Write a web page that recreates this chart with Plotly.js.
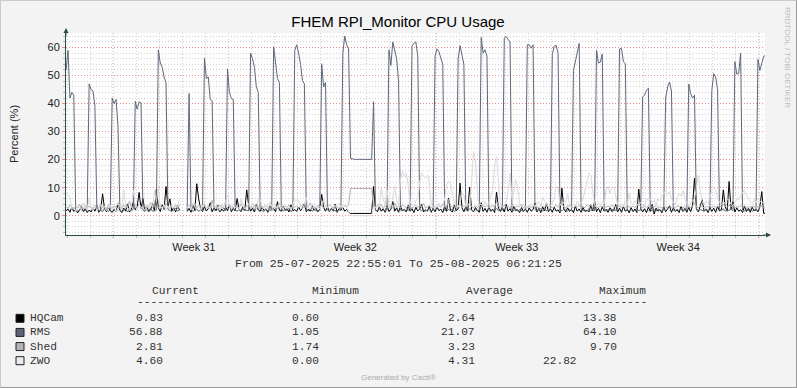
<!DOCTYPE html>
<html><head><meta charset="utf-8">
<script src="https://cdn.plot.ly/plotly-3.0.1.min.js"></script>
<style>
html,body{margin:0;padding:0;background:#f3f3f3;}
#wrap{position:relative;width:797px;height:388px;}
#chart{width:797px;height:388px;}
#frame{position:absolute;left:0;top:0;width:797px;height:388px;box-sizing:border-box;border-style:solid;border-width:1px;border-color:#cbcbcb #999 #999 #cbcbcb;pointer-events:none;}
</style></head><body>
<div id="wrap"><div id="chart"></div><div id="frame"></div></div>
<script>
// ---------- data ----------
const titleText = 'FHEM RPI_Monitor CPU Usage';
const yTitle = 'Percent (%)';
const rangeStart = '2025-07-25 22:55:01';
const rangeEnd = '2025-08-25 06:21:25';
const fromText = 'From 25-07-2025 22:55:01 To 25-08-2025 06:21:25';
const firstSample = [2025, 6, 25, 23]; // 2025-07-25 23:00, 2-hour samples
const stepHours = 2;

const weekLabels = ['Week 31', 'Week 32', 'Week 33', 'Week 34'];
const weekCenters = ['2025-07-31 12:00', '2025-08-07 12:00', '2025-08-14 12:00', '2025-08-21 12:00'];
const weekStarts = ['2025-07-28', '2025-08-04', '2025-08-11', '2025-08-18', '2025-08-25'];

const seriesNames = ['HQCam', 'RMS', 'Shed', 'ZWO'];
const seriesColors = ['#000000', '#5f687b', '#b2b2b2', '#dadada'];
const boxColors = ['#000000', '#5a6275', '#b4b4b4', '#ececec'];
const current = [0.83, 56.88, 2.81, 4.60];
const minimum = [0.60, 1.05, 1.74, 0.00];
const average = [2.64, 21.07, 3.23, 4.31];
const maximum = [13.38, 64.10, 9.70, 22.82];
const maxPad = [0, 0, 0, 6];

const hqcam = [
1.8,2.4,1.2,3.1,1.5,2.2,1.0,1.9,3.4,1.4,2.6,1.1,
2.0,1.3,2.8,1.6,3.6,1.2,2.1,7.8,2.5,1.4,3.0,1.7,
1.2,2.3,1.5,3.8,1.9,1.1,2.7,1.6,4.2,1.3,2.4,5.0,
2.1,3.3,8.3,2.6,6.1,1.8,3.5,1.4,2.2,4.4,1.6,9.5,
2.8,1.5,3.9,2.2,10.4,3.1,6.0,1.7,2.9,1.3,3.6,2.0,
null,null,null,1.5,2.6,1.2,4.1,1.8,11.4,6.0,2.3,1.5,
3.2,1.7,2.5,4.6,1.4,2.8,1.9,3.7,1.3,2.4,1.6,3.0,
1.8,3.9,1.4,2.6,1.7,6.1,2.2,1.5,3.4,1.9,9.2,3.8,
1.6,2.7,1.3,4.0,2.1,1.5,3.2,1.8,2.4,1.2,3.5,1.9,
2.6,1.4,5.0,2.0,1.6,3.3,1.9,2.5,1.3,3.9,1.7,2.2,
1.5,3.1,1.8,2.7,4.3,1.4,2.3,1.6,3.6,1.9,2.8,1.3,
2.4,7.6,2.9,1.6,3.2,1.5,2.6,1.8,4.1,1.4,2.5,1.9,
3.0,1.6,2.2,1.3,0.8,0.8,0.8,0.8,0.8,0.8,0.8,0.8,
0.8,0.8,0.8,0.8,10.4,2.1,1.4,3.2,1.7,2.5,1.2,3.6,
1.5,2.3,5.1,1.6,2.8,1.2,3.4,1.8,2.2,1.3,3.7,1.6,
2.5,1.1,3.0,1.7,2.4,4.0,1.3,2.1,1.6,3.3,1.2,2.6,
1.4,3.1,1.8,2.3,1.1,3.5,1.6,6.3,2.0,1.3,3.8,1.7,
2.4,11.6,2.8,1.4,3.3,1.6,10.2,2.2,1.3,2.9,1.8,1.2,
4.6,1.5,2.6,1.2,3.1,1.7,2.3,1.1,8.4,2.7,1.5,3.0,
1.3,4.0,1.6,2.5,1.2,3.4,1.8,2.1,1.1,2.9,1.5,2.4,
1.2,2.8,1.6,2.2,4.5,1.3,2.6,1.1,3.2,1.7,4.5,1.4,
2.5,1.2,3.0,1.6,2.1,1.0,9.8,2.4,1.3,2.8,1.5,2.2,
1.1,3.3,1.6,2.4,1.2,2.9,1.5,2.0,1.3,3.6,1.7,5.1,
1.4,2.6,1.1,3.1,1.6,2.3,1.2,2.8,1.5,2.0,4.0,1.3,
2.7,1.2,3.3,1.6,2.2,1.0,2.9,1.5,2.4,1.1,9.5,2.6,
1.3,2.5,1.1,3.0,1.5,4.0,0.6,2.7,1.6,2.2,1.0,3.1,
1.4,2.3,3.5,1.2,2.8,1.6,2.1,1.1,3.4,1.5,2.6,1.2,
2.9,1.4,3.8,13.38,2.5,1.3,3.2,5.7,1.6,2.4,1.1,3.0,
1.5,2.7,1.2,3.3,1.7,2.2,9.2,3.1,1.6,12.2,2.4,5.0,
1.3,2.8,1.6,2.1,1.1,3.4,1.5,2.6,1.2,3.0,1.7,2.3,
1.4,3.2,8.6,0.83,0.83];

const rms = [
52,59,42,44,43,2.1,1.6,1.9,2.4,1.5,1.8,2.2,
47,45,44.5,39,2.3,1.7,2.0,1.4,2.6,1.9,1.5,2.1,
42,40,41.5,32,2.2,1.6,1.8,2.5,1.3,2.0,1.7,2.4,
40.8,38,40.6,40.3,2.0,1.5,2.2,1.8,2.7,1.6,1.9,2.1,
59.2,54.5,53,49.5,47.5,2.3,1.8,1.5,2.0,2.6,1.7,1.9,
null,null,null,2.0,43.6,2.2,1.6,1.9,2.4,1.5,2.1,1.8,
56.3,49,49.5,41.5,41,2.1,1.7,2.3,1.5,1.9,2.6,1.8,
52.4,44,41.8,41.5,2.0,1.6,2.2,1.4,2.5,1.8,2.0,1.7,
58,56,53,46,44,2.2,1.9,1.5,2.4,1.7,2.0,1.8,
60.3,55,49,47.5,2.1,1.6,2.3,1.8,2.6,1.5,2.0,59,
61,58,54,48.3,47,2.0,1.7,2.4,1.6,2.2,1.9,1.5,
2.1,54.2,46,47.5,2.2,1.8,2.5,1.6,2.0,1.05,2.3,1.9,
58,64.1,61,59.5,20.5,20.2,20.1,20.1,20.1,20.1,20.1,20.1,
20.1,20.1,20.1,20.1,40.7,2.1,1.8,2.3,1.6,2.0,1.7,2.2,
59.2,53.6,62,59.5,56,48,2.0,1.7,2.4,1.5,2.1,1.9,
60.5,61.5,62,57,2.2,1.8,2.3,1.6,2.0,2.5,1.7,2.1,
57,59.5,58.5,56,54,2.0,1.6,2.2,1.8,2.4,1.5,1.9,
56,60.7,57.7,54,2.1,1.7,2.5,1.9,1.6,2.2,1.8,2.0,
63.6,58,59.2,57,2.3,1.5,2.0,1.8,2.6,1.7,2.1,1.9,
63.4,63.9,63,62,2.0,1.8,2.4,1.6,2.2,1.9,1.5,2.1,
61,61,59.8,61,2.2,1.7,2.0,2.5,1.6,2.3,1.8,1.9,
2.0,57.5,60.5,60.8,58,2.1,1.7,2.4,1.9,1.6,2.2,1.8,
51.8,55.5,59,61.5,2.3,1.8,2.0,1.6,2.5,1.9,2.1,1.7,
59,54.5,54.8,57.7,2.0,1.6,2.2,1.9,2.4,1.7,2.0,1.8,
59.5,59.7,55,54.2,2.1,1.7,2.3,1.5,2.0,2.6,1.8,2.0,
42.4,43,44.7,45.5,2.2,1.8,2.0,1.6,2.4,1.9,1.7,2.1,
42,46,47.7,44.5,2.0,1.6,2.3,1.8,2.5,1.7,2.1,1.9,
47,43.5,42,43,2.1,1.7,2.2,1.9,1.6,2.4,1.8,2.0,
44.6,50.7,49.5,45,2.2,1.8,2.5,1.6,2.0,1.9,2.3,1.7,
55,50.5,50.8,58,2.0,1.7,2.2,1.9,2.4,1.6,2.1,1.8,
55.8,51.8,54.5,56.88,57.2];

const shed = [
3.2,2.6,3.8,2.9,2.4,3.5,2.8,4.1,3.0,2.5,3.6,2.7,
3.4,2.9,2.3,3.7,3.1,2.6,4.3,2.8,3.3,2.4,3.9,3.0,
2.7,3.5,2.9,4.6,3.2,2.5,3.8,2.8,3.4,5.2,3.0,2.6,
3.6,2.8,4.0,3.1,2.5,3.7,2.9,3.3,4.8,2.7,3.5,3.0,
2.8,3.9,3.2,2.6,4.4,3.0,2.7,3.6,2.9,3.4,2.5,3.8,
null,null,null,3.1,3.7,2.8,3.3,4.5,2.9,3.6,2.7,3.2,
3.9,2.8,3.4,3.0,5.5,2.7,3.5,2.9,3.8,2.6,3.2,4.0,
2.9,3.6,3.1,2.7,3.9,3.3,2.8,4.2,3.0,2.6,3.5,3.1,
3.4,2.7,3.8,3.0,2.9,4.1,2.6,3.3,3.7,2.8,3.2,1.74,
3.0,3.6,2.8,4.3,3.1,2.7,3.4,2.9,3.8,2.6,3.3,3.0,
3.5,2.8,3.2,3.9,2.7,3.4,3.0,4.6,2.9,3.1,2.6,3.7,
3.0,3.8,2.7,3.3,2.9,4.0,3.2,2.8,3.5,3.0,2.6,3.4,
2.9,3.6,3.1,3.8,9.7,9.7,9.7,9.7,9.7,9.7,9.7,9.7,
9.7,9.7,9.7,9.7,3.2,2.8,3.5,3.0,4.2,2.7,3.3,2.9,
3.6,3.1,2.8,4.4,3.0,3.5,2.7,3.9,3.2,2.9,3.4,3.0,
2.8,3.3,3.7,2.9,3.5,3.1,4.5,2.7,3.2,3.6,2.9,3.4,
3.1,2.8,3.6,3.0,4.2,3.3,2.9,5.8,3.7,3.0,3.4,2.8,
3.3,4.0,2.9,3.5,3.1,3.8,4.6,3.2,2.8,3.6,3.0,3.4,
2.9,3.5,3.1,3.8,2.8,3.3,3.6,2.9,5.1,3.4,3.0,3.2,
3.6,3.0,3.4,2.8,3.9,3.2,2.9,3.5,3.1,4.0,2.8,3.3,
3.0,3.5,2.9,3.3,3.7,3.1,2.8,3.6,3.2,2.9,4.3,3.1,
3.4,2.9,3.2,3.8,3.0,3.5,4.4,3.1,2.8,3.6,3.3,3.0,
2.9,3.4,3.1,3.7,3.0,3.3,2.8,3.9,3.2,4.1,3.0,3.5,
3.2,2.8,3.5,3.1,3.6,2.9,3.4,3.0,3.8,3.1,3.3,2.9,
3.5,3.0,3.3,2.8,3.7,3.1,3.0,3.4,2.9,3.6,4.2,3.2,
2.9,3.4,3.0,3.6,2.8,3.3,3.1,3.5,2.9,3.2,2.8,3.4,
3.1,2.9,3.5,3.0,3.3,2.8,3.6,3.1,3.4,2.9,3.2,3.0,
3.3,3.0,3.4,4.6,3.1,2.9,3.5,3.2,2.8,3.3,3.0,3.6,
3.0,3.4,2.9,3.2,3.5,3.0,4.1,3.3,2.9,3.8,3.1,3.4,
2.9,3.3,3.0,3.6,3.1,3.4,2.8,3.2,3.0,3.5,3.1,2.9,
3.2,3.0,3.5,2.81,2.81];

const zwo = [
7.5,7.2,6.8,2.4,3.1,1.6,2.8,3.5,2.0,4.6,2.6,1.9,
6.4,3.2,2.1,3.6,1.8,2.9,4.0,2.3,3.3,1.7,2.6,3.8,
2.2,3.0,1.5,2.7,4.1,2.4,9.2,3.3,2.9,1.8,3.4,9.2,
3.5,2.1,4.3,2.8,3.0,1.9,3.7,2.5,4.4,3.1,9.0,4.8,
10.4,3.2,2.7,4.0,2.2,3.5,1.9,3.8,2.6,4.2,3.0,6.0,
null,null,null,2.8,3.6,2.1,4.5,3.0,2.4,3.9,2.2,3.4,
4.8,2.6,3.1,2.0,3.7,4.4,2.5,3.3,1.9,4.0,2.8,5.2,
7.3,3.5,2.3,4.1,2.9,3.2,2.0,6.0,3.6,2.4,3.0,4.3,
2.7,4.6,3.4,2.2,6.4,5.8,3.1,2.5,3.9,2.1,5.0,3.3,
2.9,3.6,2.4,4.2,3.0,2.3,3.8,2.6,3.4,2.0,4.0,5.7,
5.5,5.7,3.2,2.5,3.9,6.5,3.0,2.2,3.6,4.3,2.7,3.1,
2.4,3.8,5.9,3.3,2.6,4.1,3.0,2.3,3.7,2.8,4.5,3.2,
2.6,3.5,2.9,1.2,0,0,0,0,0,0,0,0,
0,0,0,0,3.4,2.7,4.2,3.1,10.4,6.0,3.5,9.2,
4.0,3.2,6.5,10.4,5.0,3.6,13.0,15.7,14.0,15.1,11.0,5.0,
3.8,3.0,5.5,6.0,12.0,15.2,14.0,13.5,14.5,12.0,4.0,3.1,
2.7,3.5,4.4,2.9,3.8,6.0,11.0,12.2,11.5,8.0,4.2,3.3,
3.0,4.6,8.0,7.5,3.2,4.0,3.6,12.0,22.82,20.0,8.0,3.5,
4.2,3.1,5.0,3.4,4.5,7.0,9.0,18.0,21.0,12.0,4.0,3.2,
3.6,4.8,9.0,15.2,6.0,8.5,12.8,10.0,4.5,3.3,4.0,3.0,
3.5,2.8,4.2,3.6,3.0,4.8,5.0,3.4,6.5,5.2,4.0,3.1,
3.7,4.5,6.0,10.4,10.0,4.2,3.5,5.0,4.8,8.0,3.6,3.0,
4.1,3.4,5.2,3.8,4.4,6.0,9.0,12.0,15.1,14.5,8.0,3.9,
3.2,4.6,3.7,5.0,4.2,9.0,10.4,8.0,10.0,10.4,7.0,4.0,
3.5,4.3,3.1,5.4,4.0,8.0,4.6,3.8,5.5,4.2,3.6,4.8,
3.3,4.0,6.0,5.5,6.2,4.5,5.8,3.9,6.0,5.2,7.0,8.0,
9.0,7.5,8.5,6.0,5.0,3.8,6.5,8.0,7.0,9.0,6.0,4.4,
3.7,4.5,5.5,6.0,10.0,14.5,9.0,4.8,3.9,5.2,4.3,6.5,
9.0,10.0,9.5,6.0,4.6,3.8,5.0,4.2,6.0,5.5,4.0,3.6,
4.5,6.0,5.7,7.0,8.2,9.0,7.0,6.5,5.0,4.3,5.8,4.6,
6.0,5.2,4.8,4.6,4.6];

// ---------- layout helpers ----------
const L = 66, R = 765, T = 33, B = 235;
const fx = x => (x - L) / (R - L);
const fy = y => (B - y) / (B - T);
const AX = '#2c4d43';
const MONO = 'Liberation Mono, monospace';
const SANS = 'Liberation Sans, Arial, sans-serif';

const t0 = Date.UTC(firstSample[0], firstSample[1], firstSample[2], firstSample[3]);
const times = rms.map((_, i) => new Date(t0 + i * stepHours * 3600000).toISOString().slice(0, 19).replace('T', ' '));
const allSeries = [hqcam, rms, shed, zwo];

const traces = allSeries.map((vals, k) => ({
  type: 'scatter', mode: 'lines', name: seriesNames[k],
  x: times, y: vals, connectgaps: false,
  line: {color: seriesColors[k], width: 1}, hoverinfo: 'skip'
}));

const shapes = weekStarts.map(d => ({
  type: 'line', xref: 'x', yref: 'paper', x0: d, x1: d, y0: -3 / (B - T), y1: 1,
  line: {color: '#ee8f8f', width: 1, dash: '1px,2px'}, layer: 'between'
}));

const annotations = [];
const txt = (text, x, y, anchor, font, extra) => annotations.push(Object.assign({
  text, x: fx(x), y: fy(y), xref: 'paper', yref: 'paper', xanchor: anchor, yanchor: 'middle',
  showarrow: false, font
}, extra || {}));

const legFont = {family: MONO, size: 11.2, color: '#333'};
txt(fromText, 398, 263, 'center', {family: MONO, size: 11.6, color: '#333'});
txt('Current', 150, 291, 'left', legFont);
txt('Minimum', 310, 291, 'left', legFont);
txt('Average', 464, 291, 'left', legFont);
txt('Maximum', 597, 291, 'left', legFont);
txt('-'.repeat(76), 135, 302, 'left', legFont);

seriesNames.forEach((name, k) => {
  const y = 318.3 + 14.13 * k;
  txt(name, 28.3, y, 'left', legFont);
  txt(current[k].toFixed(2), 164.5, y, 'right', legFont);
  txt(minimum[k].toFixed(2), 320.5, y, 'right', legFont);
  txt(average[k].toFixed(2), 477, y, 'right', legFont);
  txt(maximum[k].toFixed(2) + '\u00a0'.repeat(maxPad[k]), 618.5, y, 'right', legFont);
  shapes.push({type: 'rect', xref: 'paper', yref: 'paper',
    x0: fx(16), x1: fx(24), y0: fy(y + 4), y1: fy(y - 4),
    fillcolor: boxColors[k], line: {color: '#222', width: 1}});
});

txt('RRDTOOL / TOBI OETIKER', 788, 57, 'center', {family: SANS, size: 8, color: '#bdbdbd'}, {textangle: 90});
txt('Generated by Cacti®', 398, 377, 'center', {family: SANS, size: 8, color: '#aaaaaa'});

// axis arrows
annotations.push({x: fx(771), y: fy(235), xref: 'paper', yref: 'paper', text: '', showarrow: true,
  ax: -9, ay: 0, arrowhead: 2, arrowsize: 1, arrowwidth: 1, arrowcolor: AX});
annotations.push({x: fx(66), y: fy(28), xref: 'paper', yref: 'paper', text: '', showarrow: true,
  ax: 0, ay: 9, arrowhead: 2, arrowsize: 1, arrowwidth: 1, arrowcolor: AX});

const layout = {
  width: 797, height: 388,
  margin: {l: L, r: 797 - R, t: T, b: 388 - B, pad: 0},
  paper_bgcolor: '#f3f3f3', plot_bgcolor: '#fdfdfd',
  showlegend: false,
  title: {text: titleText, font: {family: SANS, size: 15, color: '#000'},
    xref: 'container', yref: 'container', x: 398 / 797, y: 1 - 22 / 388, xanchor: 'center', yanchor: 'middle'},
  xaxis: {
    type: 'date', range: [rangeStart, rangeEnd],
    tickmode: 'array', tickvals: weekCenters, ticktext: weekLabels,
    ticks: '', showgrid: false, zeroline: false,
    showline: true, linecolor: AX, linewidth: 1,
    tickfont: {family: SANS, size: 11, color: '#222'},
    ticklabelstandoff: 2,
    minor: {tick0: '2025-07-26', dtick: 86400000, showgrid: true, gridcolor: '#d2d2d2',
      griddash: '1px,2px', ticks: 'outside', ticklen: 2, tickcolor: '#bbbbbb'}
  },
  yaxis: {
    range: [-6.9, 65.2], tick0: 0, dtick: 10,
    ticks: 'outside', ticklen: 3, tickcolor: '#ee8f8f',
    showgrid: true, gridcolor: '#ee8f8f', griddash: '1px,2px', zeroline: false,
    showline: true, linecolor: AX, linewidth: 1,
    tickfont: {family: SANS, size: 11, color: '#222'},
    title: {text: yTitle, font: {family: SANS, size: 11, color: '#222'}, standoff: 26},
    minor: {tick0: 0, dtick: 2, showgrid: true, gridcolor: '#d2d2d2', griddash: '1px,2px',
      ticks: 'outside', ticklen: 2, tickcolor: '#bbbbbb'}
  },
  shapes, annotations
};

Plotly.newPlot('chart', traces, layout, {staticPlot: true, displayModeBar: false});
</script>
</body></html>
